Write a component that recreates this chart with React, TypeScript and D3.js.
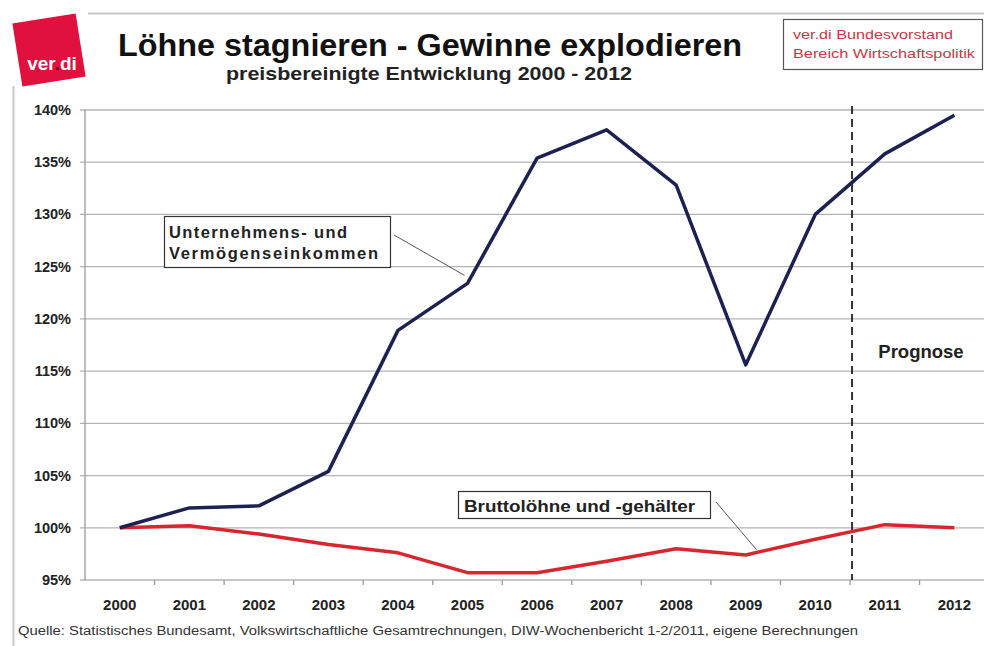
import * as d3 from 'd3'

// preisbereinigte Entwicklung, 2000 = 100%
const years: string[] = ['2000', '2001', '2002', '2003', '2004', '2005', '2006', '2007', '2008', '2009', '2010', '2011', '2012']
const profits: number[] = [100, 101.9, 102.1, 105.4, 118.9, 123.4, 135.4, 138.1, 132.8, 115.6, 130.0, 135.8, 139.5]
const wages: number[] = [100, 100.2, 99.4, 98.4, 97.6, 95.7, 95.7, 96.8, 98.0, 97.4, 98.9, 100.3, 100.0]
const yTicks: number[] = [95, 100, 105, 110, 115, 120, 125, 130, 135, 140]
const forecastFrom = '2011'

const W = 984
const H = 646
const FONT = 'Liberation Sans, Arial, sans-serif'

export default function App() {
  const x = d3.scaleBand<string>().domain(years).range([85, 85 + 13 * 69.55])
  const y = d3.scaleLinear().domain([95, 140]).range([580, 110])
  const cx = (yr: string) => (x(yr) ?? 0) + x.bandwidth() / 2

  const line = d3.line<number>()
    .x((_, i) => cx(years[i]))
    .y(d => y(d))

  const xLeft = x.range()[0]
  const xDash = x(forecastFrom) ?? 0

  return (
    <svg width={W} height={H} style={{ display: 'block', position: 'absolute', left: 0, top: 0, background: '#fff' }} fontFamily={FONT}>
      {/* slide frame */}
      <line x1={88} x2={W} y1={13.5} y2={13.5} stroke="#c8c8c8" strokeWidth={2} />
      <line x1={13.5} x2={13.5} y1={86} y2={H} stroke="#c8c8c8" strokeWidth={2} />

      {/* logo */}
      <g transform="translate(49,50) rotate(-9)">
        <rect x={-32} y={-32} width={64} height={64} fill="#e2103d" />
      </g>
      <text x={52} y={70} textAnchor="middle" fontSize={19} fontWeight="bold" fill="#fff">
        ver<tspan fill="#3a0a14">.</tspan>di
      </text>

      {/* titles */}
      <text x={118} y={56} fontSize={31} fontWeight="bold" fill="#111" textLength={624} lengthAdjust="spacingAndGlyphs">Löhne stagnieren - Gewinne explodieren</text>
      <text x={226} y={80} fontSize={19} fontWeight="bold" fill="#222" textLength={406} lengthAdjust="spacingAndGlyphs">preisbereinigte Entwicklung 2000 - 2012</text>

      {/* source box */}
      <rect x={783.5} y={19.5} width={199} height={50} fill="#fff" stroke="#555" strokeWidth={1.2} />
      <text x={793} y={39} fontSize={13.5} fill="#cc3644" textLength={160} lengthAdjust="spacingAndGlyphs">ver.di Bundesvorstand</text>
      <text x={793} y={58} fontSize={13.5} fill="#cc3644" textLength={182} lengthAdjust="spacingAndGlyphs">Bereich Wirtschaftspolitik</text>

      {/* grid and y axis */}
      {yTicks.map(t => (
        <g key={t}>
          <line x1={xLeft - 5} x2={W} y1={y(t)} y2={y(t)} stroke="#b4b4b4" strokeWidth={1.3} />
          <text x={71} y={y(t) + 5} textAnchor="end" fontSize={14.5} fontWeight="bold" fill="#222">{t}%</text>
        </g>
      ))}
      <line x1={xLeft} x2={xLeft} y1={y(140)} y2={y(95)} stroke="#9a9a9a" strokeWidth={1.3} />

      {/* x axis */}
      {years.map(yr => (
        <g key={yr}>
          <line x1={(x(yr) ?? 0) + x.bandwidth()} x2={(x(yr) ?? 0) + x.bandwidth()} y1={y(95)} y2={y(95) + 5} stroke="#9a9a9a" strokeWidth={1.3} />
          <text x={cx(yr)} y={610} textAnchor="middle" fontSize={15} fontWeight="bold" fill="#222">{yr}</text>
        </g>
      ))}

      {/* forecast marker */}
      <line x1={xDash + 2} x2={xDash + 2} y1={y(140) - 4} y2={y(95)} stroke="#333" strokeWidth={2} strokeDasharray="8,5" />
      <text x={921} y={358} textAnchor="middle" fontSize={18.5} fontWeight="bold" fill="#222">Prognose</text>

      {/* series */}
      <path d={line(wages) ?? ''} fill="none" stroke="#d8262e" strokeWidth={3.5} strokeLinejoin="round" />
      <path d={line(profits) ?? ''} fill="none" stroke="#1c2152" strokeWidth={3.5} strokeLinejoin="round" />

      {/* annotations */}
      <line x1={394} y1={235} x2={cx('2005') - 3} y2={y(profits[5]) - 8} stroke="#555" strokeWidth={1} />
      <rect x={164.5} y={216.5} width={226} height={51} fill="#fff" stroke="#333" strokeWidth={1.2} />
      <text x={169} y={238} fontSize={16.5} fontWeight="bold" fill="#222" textLength={178} lengthAdjust="spacing">Unternehmens- und</text>
      <text x={169} y={259} fontSize={16.5} fontWeight="bold" fill="#222" textLength={209} lengthAdjust="spacing">Vermögenseinkommen</text>

      <line x1={716} y1={502} x2={cx('2009') + 11} y2={y(wages[9]) - 5} stroke="#555" strokeWidth={1} />
      <rect x={458.5} y={491.5} width={252} height={27} fill="#fff" stroke="#333" strokeWidth={1.2} />
      <text x={464} y={512} fontSize={16} fontWeight="bold" fill="#222" textLength={231} lengthAdjust="spacingAndGlyphs">Bruttolöhne und -gehälter</text>

      {/* footer */}
      <text x={18} y={635} fontSize={12.5} fill="#333" textLength={840} lengthAdjust="spacingAndGlyphs">Quelle: Statistisches Bundesamt, Volkswirtschaftliche Gesamtrechnungen, DIW-Wochenbericht 1-2/2011, eigene Berechnungen</text>
    </svg>
  )
}
